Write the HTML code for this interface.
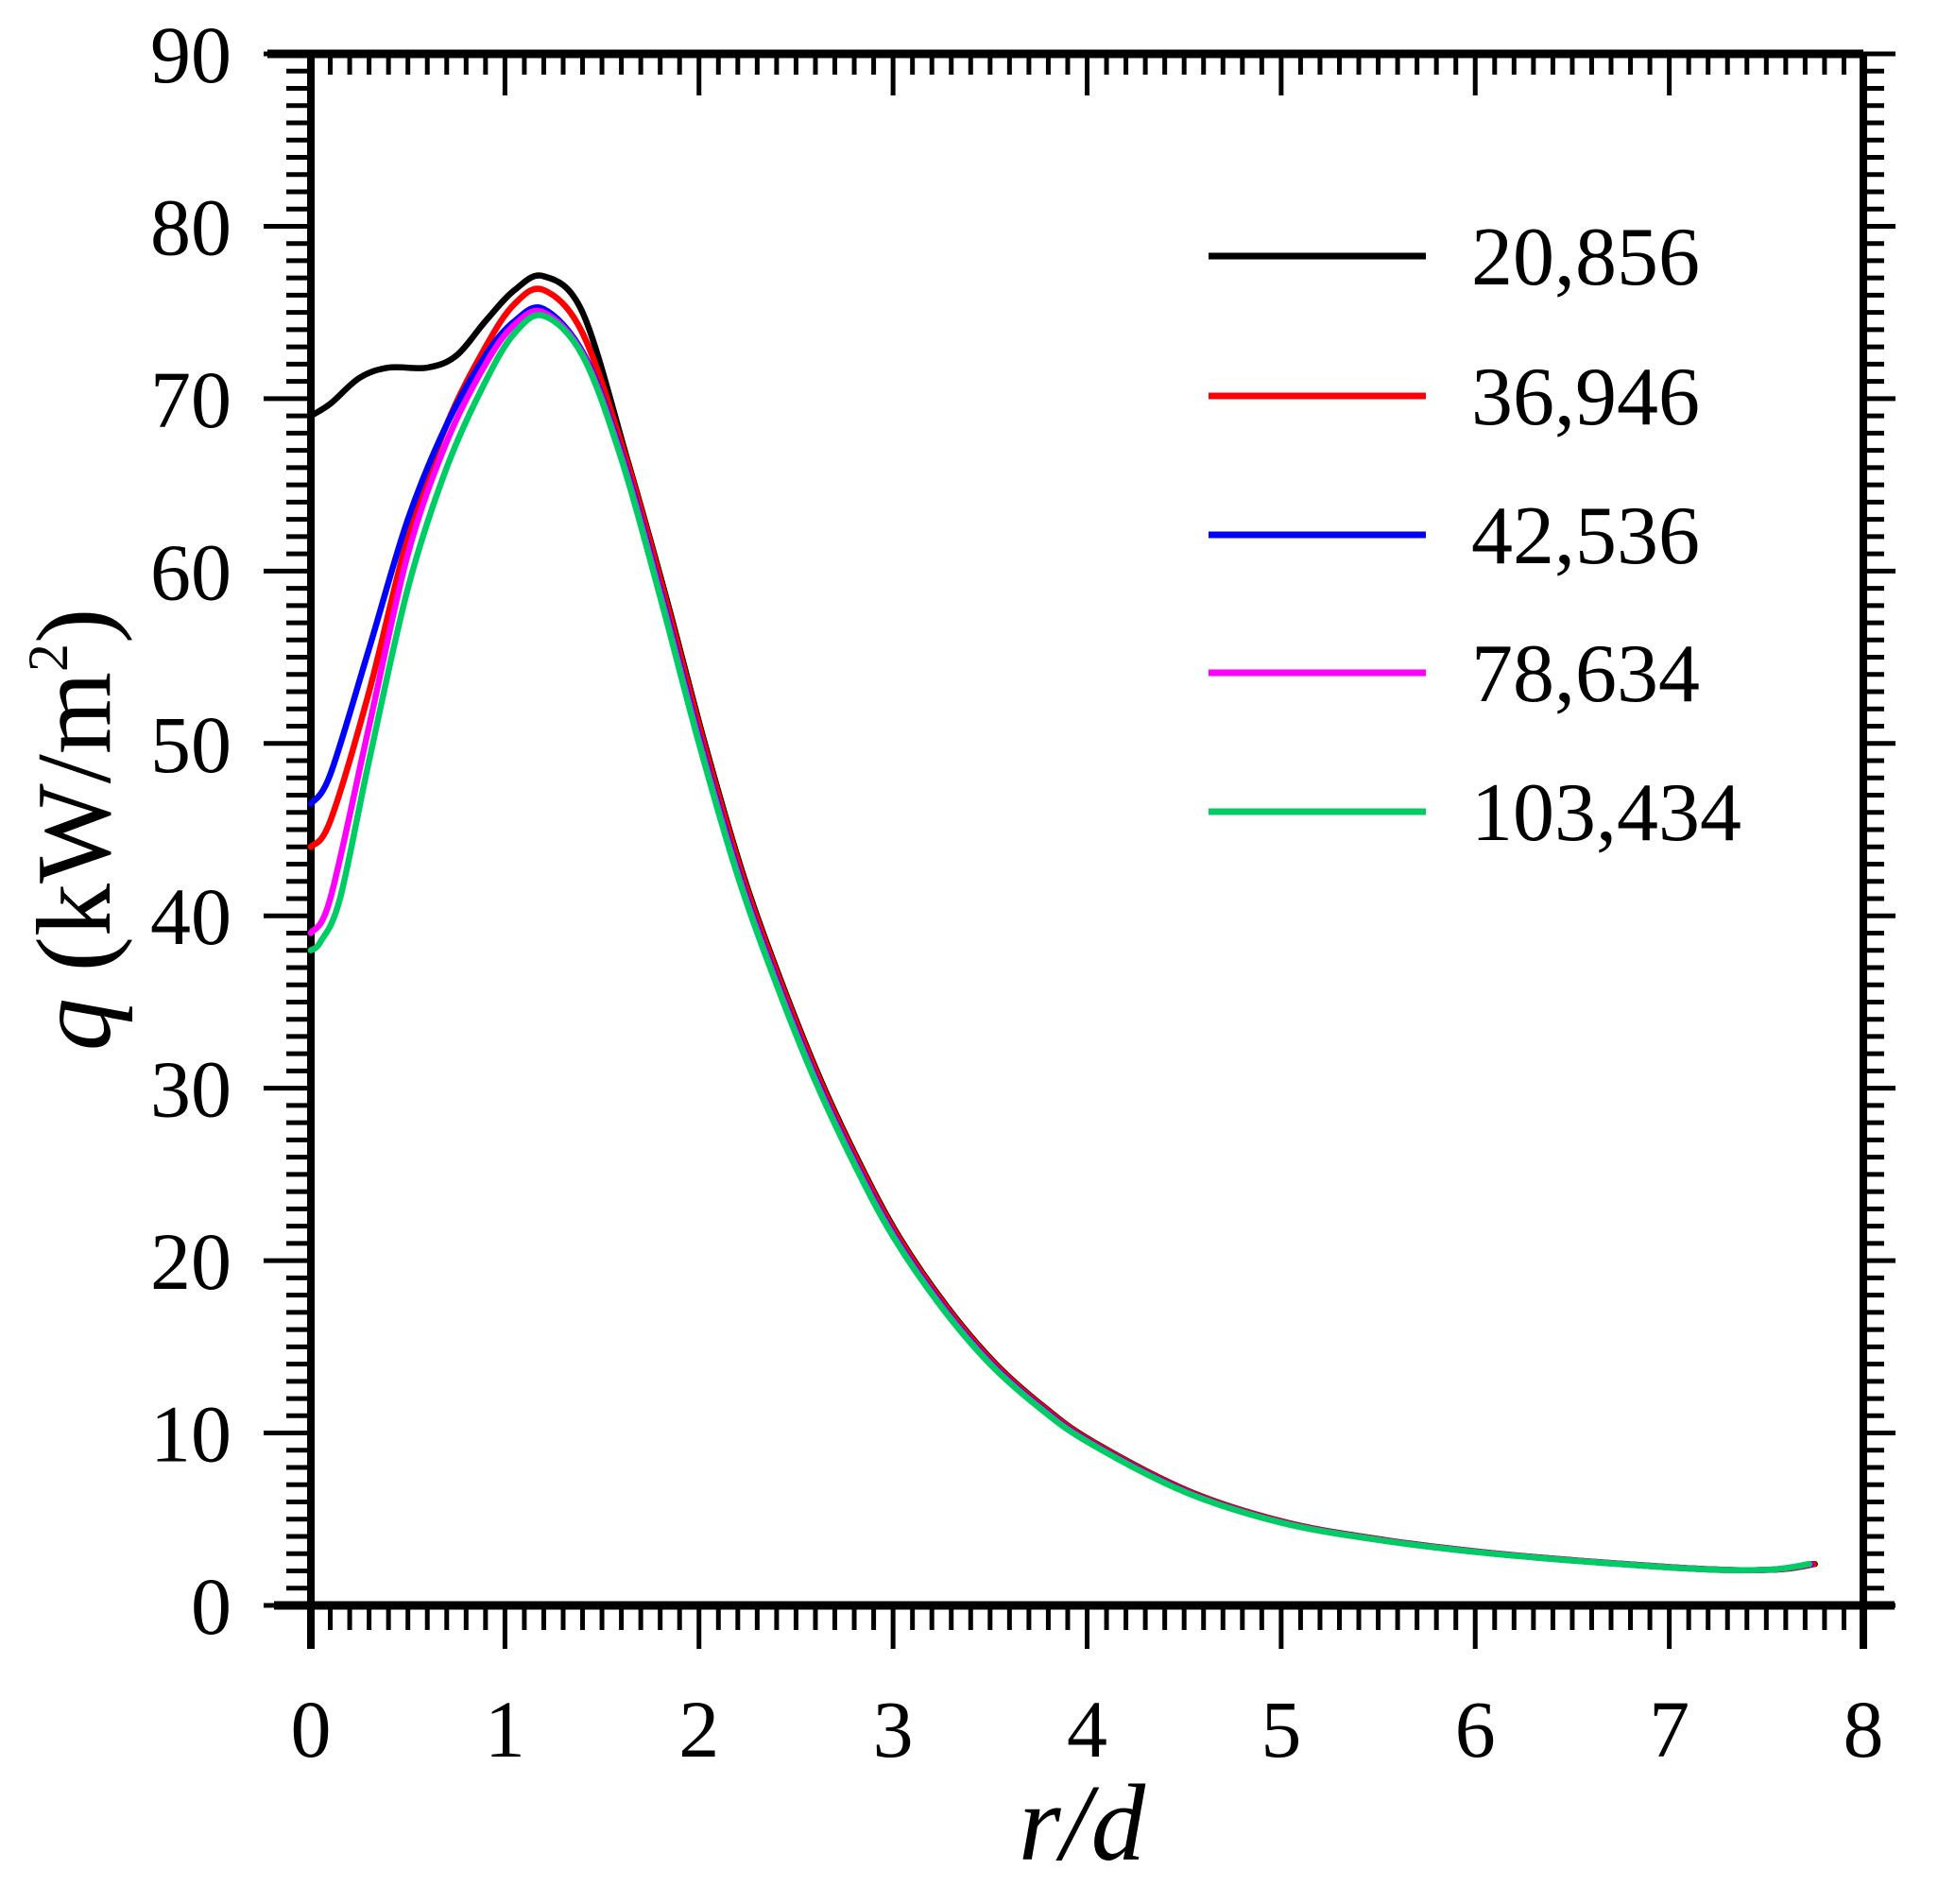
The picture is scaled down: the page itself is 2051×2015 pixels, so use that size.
<!DOCTYPE html>
<html><head><meta charset="utf-8"><style>
html,body{margin:0;padding:0;background:#fff}
svg{display:block}
text{font-family:"Liberation Serif",serif;fill:#000}
</style></head><body>
<svg id="s" width="2051" height="2015" viewBox="0 0 2051 2015" xmlns="http://www.w3.org/2000/svg">
<g id="ticks" stroke="#000"></g>
<g id="curves" fill="none" stroke-width="6.5" stroke-linejoin="round" stroke-linecap="round"></g>
<g id="labels" font-size="86"></g>
<g font-size="88">
<line x1="1279" y1="271" x2="1509" y2="271" stroke="#000" stroke-width="7"/>
<line x1="1279" y1="419" x2="1509" y2="419" stroke="#ff0000" stroke-width="7"/>
<line x1="1279" y1="566" x2="1509" y2="566" stroke="#0000ff" stroke-width="7"/>
<line x1="1279" y1="712" x2="1509" y2="712" stroke="#ff00ff" stroke-width="7"/>
<line x1="1279" y1="859" x2="1509" y2="859" stroke="#00cc66" stroke-width="7"/>
<text x="1557" y="301">20,856</text>
<text x="1557" y="449">36,946</text>
<text x="1557" y="596">42,536</text>
<text x="1557" y="742">78,634</text>
<text x="1557" y="889">103,434</text>
</g>
<text x="1145" y="1968" font-size="115" text-anchor="middle" font-style="italic">r/d</text>
<text transform="translate(116,878) rotate(-90)" font-size="112" text-anchor="middle"><tspan font-style="italic">q</tspan> (kW/m<tspan font-size="60" dy="-45">2</tspan><tspan dy="45">)</tspan></text>
</svg>
<script>
var L=329,R=1972,T=57,B=1699;
function X(v){return L+v*(R-L)/8}
function Y(v){return B-v*(B-T)/90}
var ns="http://www.w3.org/2000/svg";
function el(p,t,a){var e=document.createElementNS(ns,t);for(var k in a)e.setAttribute(k,a[k]);p.appendChild(e);return e}
var tk=document.getElementById('ticks');
el(tk,'line',{x1:283,y1:T,x2:R,y2:T,'stroke-width':9});
el(tk,'line',{x1:290,y1:B,x2:2005,y2:B,'stroke-width':9});
el(tk,'line',{x1:L,y1:T,x2:L,y2:1745,'stroke-width':8});
el(tk,'line',{x1:R,y1:T,x2:R,y2:1745,'stroke-width':8});
for(var i=0;i<=80;i++){var x=X(i/10),maj=i%10==0;
 el(tk,'line',{x1:x,y1:B,x2:x,y2:B+(maj?46:26),'stroke-width':5});
 el(tk,'line',{x1:x,y1:T,x2:x,y2:T+(maj?44:22),'stroke-width':5});}
for(var j=0;j<=90;j++){var y=Y(j),maj=j%10==0;
 el(tk,'line',{x1:L,y1:y,x2:L-(maj?50:26),y2:y,'stroke-width':5});
 el(tk,'line',{x1:R,y1:y,x2:R+(maj?34:22),y2:y,'stroke-width':5});}
var lb=document.getElementById('labels');
for(var i=0;i<=8;i++){var t=el(lb,'text',{x:X(i),y:1859,'text-anchor':'middle'});t.textContent=i;}
for(var j=0;j<=9;j++){var t=el(lb,'text',{x:245,y:Y(j*10)+30,'text-anchor':'end'});t.textContent=j*10;}
var tail=[[1.4,72.5],[1.6,66.5],[1.8,58.5],[2.0,50],[2.2,42.3],[2.4,36],[2.6,30.4],[2.8,25.6],[3.0,21.4],[3.25,17.3],[3.5,14],[3.75,11.5],[4.0,9.5],[4.5,6.6],[5,4.8],[5.5,3.8],[6,3.1],[6.5,2.6],[7,2.2],[7.3,2.05],[7.55,2.1],[7.72,2.4]];
function sh(d,dx){return d.map(function(p){return [p[0]+dx,p[1]]})}
var S=[
 ['#000',[[0,69],[0.1,69.7],[0.25,71.2],[0.4,71.8],[0.6,71.8],[0.75,72.5],[0.9,74.5],[1.05,76.3],[1.2,77.1],[1.4,75]].concat(sh(tail.slice(1),0.03))],
 ['#ff0000',[[0,44],[0.1,45.5],[0.3,53],[0.5,62],[0.7,68.5],[0.9,73],[1.05,75.5],[1.2,76.3],[1.4,73.8]].concat(sh(tail.slice(1),0.025))],
 ['#0000ff',[[0,46.5],[0.1,48.2],[0.3,55.5],[0.5,63],[0.7,68.5],[0.9,72.5],[1.05,74.5],[1.2,75.2]].concat(sh(tail,0.01))],
 ['#ff00ff',[[0,39],[0.1,41],[0.3,51],[0.5,61],[0.7,67.5],[0.9,72],[1.05,74.3],[1.2,75]].concat(sh(tail,0.005))],
 ['#00cc66',[[0,38],[0.05,38.5],[0.15,41],[0.3,49],[0.5,59],[0.7,66],[0.9,71],[1.05,73.8],[1.2,74.8]].concat(tail)]
];
var cg=document.getElementById('curves');
S.forEach(function(s){
 var p=s[1].map(function(q){return [X(q[0]),Y(q[1])]});
 var d='M'+p[0][0]+','+p[0][1];
 for(var i=0;i<p.length-1;i++){var p0=p[i-1]||p[i],p1=p[i],p2=p[i+1],p3=p[i+2]||p2;
  d+=' C'+(p1[0]+(p2[0]-p0[0])/6)+','+(p1[1]+(p2[1]-p0[1])/6)+' '+(p2[0]-(p3[0]-p1[0])/6)+','+(p2[1]-(p3[1]-p1[1])/6)+' '+p2[0]+','+p2[1];}
 el(cg,'path',{d:d,stroke:s[0]});
});
</script>
</body></html>
